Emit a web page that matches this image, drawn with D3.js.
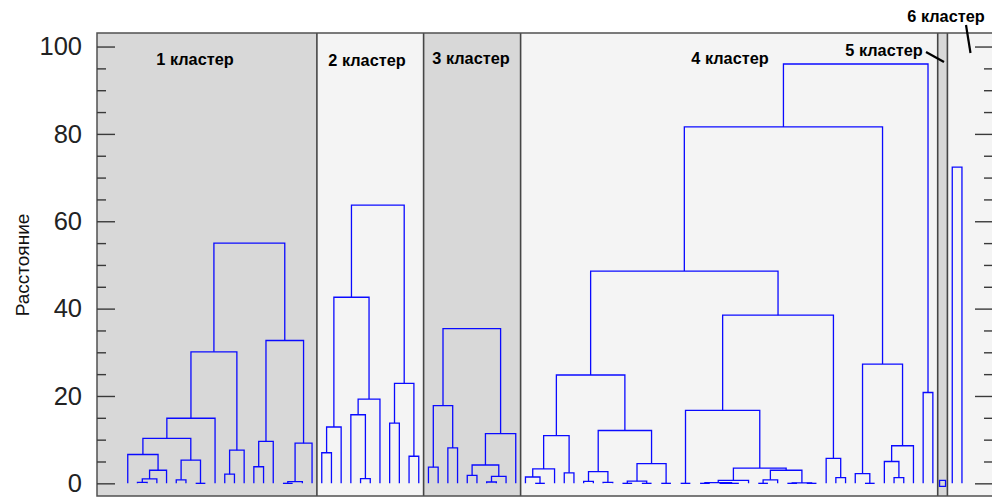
<!DOCTYPE html>
<html>
<head>
<meta charset="utf-8">
<script src="https://cdn.jsdelivr.net/npm/d3@7"></script>
<style>
  html, body { margin: 0; padding: 0; background: #ffffff; }
  svg { display: block; font-family: "Liberation Sans", Arial, sans-serif; }
</style>
</head>
<body>
<svg id="chart" width="992" height="499"></svg>
<script>
// ---- data ----
const clusterNames = ["1 кластер", "2 кластер", "3 кластер", "4 кластер", "5 кластер", "6 кластер"];
// first / last leaf (left-to-right leaf numbers) of every cluster
const clusterFirstLeaf = [0, 20, 31, 41, 84, 85];
const clusterLastLeaf  = [19, 30, 40, 83, 84, 86];

// merge trees: [distance, left, right]; a bare number is a leaf
const tree1 = [55.0,
  [30.1,
    [14.9,
      [10.3,
        [6.6, 0, [3.0, [1.0, [0.2, 1, 2], 3], 4]],
        [5.3, [0.8, 5, 6], [0, 7, 8]]],
      9],
    [7.6, [2.1, 10, 11], 12]],
  [32.7,
    [9.6, [3.8, 13, 14], 15],
    [9.2, [0.4, [0, 16, 17], 18], 19]]];

const tree2 = [63.7,
  [42.6,
    [12.9, [7.0, 20, 21], 22],
    [19.3, [15.7, 23, [1.1, 24, 25]], 26]],
  [22.9, [13.8, 27, 28], [6.2, 29, 30]]];

const tree3 = [35.4,
  [17.8, [3.7, 31, 32], [8.1, 33, 34]],
  [11.4, [4.2, [1.8, 35, 36], [1.6, [0.3, 37, 38], 39]], 40]];

const tree4a = [24.8,
  [10.9, [3.3, [1.45, 41, [0, 42, 43]], 44], [2.4, 45, 46]],
  [12.1, [2.7, [0.45, 47, 48], [0.2, 49, 50]],
         [4.5, [0.5, [0, 51, 52], [0, 53, 54]], [0, 55, 56]]]];
const tree4b = [38.5,
  [16.7, [0, 57, 58],
    [3.5, [0.7, [0.15, [0, 59, 60], [0, [0, 61, 62], 63]], 64],
          [3.0, [0.8, [0, 65, 66], 67], [0.1, [0, 68, 69], [0, 70, 71]]]]],
  [5.7, 72, [1.3, 73, 74]]];
const tree4c = [27.3, [2.2, 75, [0, 76, 77]], [8.6, [5.0, 78, [1.3, 79, 80]], 81]];
const tree4d = [20.8, 82, 83];
const tree4 = [96.0, [81.6, [48.6, tree4a, tree4b], tree4c], tree4d];

const tree5 = 84;
const tree6 = [72.4, 85, 86];

const yTicksMajor = [0, 20, 40, 60, 80, 100];
const yTicksMinor = [5, 10, 15, 25, 30, 35, 45, 50, 55, 65, 70, 75, 85, 90, 95];
const yTitle = "Расстояние";

// ---- layout ----
const frame = { left: 97, right: 993, top: 33, bottom: 496 };
const svg = d3.select("#chart");

const x = d3.scaleLinear().domain([-3.17, 89.2]).range([frame.left, frame.right]);
const y = d3.scaleLinear().domain([-2.9, 103.1]).range([frame.bottom, frame.top]);

const fills = ["#d8d8d8", "#f4f4f4"];

// cluster bands
const bands = clusterNames.map((name, i) => {
  const x0 = i === 0 ? frame.left : x(clusterFirstLeaf[i] - 0.5);
  const x1 = i === clusterNames.length - 1 ? frame.right : x(clusterLastLeaf[i] + 0.5);
  return { name, x0, x1, fill: fills[i % 2] };
});

svg.append("g").selectAll("rect").data(bands).join("rect")
  .attr("x", d => d.x0).attr("y", frame.top)
  .attr("width", d => d.x1 - d.x0).attr("height", frame.bottom - frame.top)
  .attr("fill", d => d.fill);

// dendrogram links
const links = [];
function walk(node) {
  if (typeof node === "number") return { x: x(node), h: 0 };
  const [h, a, b] = node;
  const l = walk(a), r = walk(b);
  links.push({ l, r, h });
  return { x: (l.x + r.x) / 2, h };
}
[tree1, tree2, tree3, tree4, tree6].forEach(walk);

svg.append("g")
  .attr("fill", "none")
  .attr("stroke", "#0a0aff")
  .attr("stroke-width", 1.3)
  .selectAll("path").data(links).join("path")
  .attr("d", d => `M${d.l.x},${y(d.l.h)}V${y(d.h)}H${d.r.x}V${y(d.r.h)}`);

// single-object cluster
svg.append("path")
  .attr("d", d3.symbol(d3.symbolSquare, 36)())
  .attr("transform", `translate(${x(tree5)},${y(0)})`)
  .attr("fill", "none").attr("stroke", "#0a0aff").attr("stroke-width", 1.3);

// band dividers
svg.append("g").selectAll("line").data(bands.slice(1)).join("line")
  .attr("x1", d => d.x0).attr("x2", d => d.x0)
  .attr("y1", frame.top).attr("y2", frame.bottom)
  .attr("stroke", "#454545").attr("stroke-width", 1.6);

// frame
svg.append("rect")
  .attr("x", frame.left).attr("y", frame.top)
  .attr("width", frame.right - frame.left).attr("height", frame.bottom - frame.top)
  .attr("fill", "none").attr("stroke", "#505050").attr("stroke-width", 1.5);

// axes (ticks point inward)
function styleAxis(g) {
  g.select(".domain").remove();
  g.selectAll(".tick line").attr("stroke", "#3a3a3a").attr("stroke-width", 1.4);
}
svg.append("g").attr("transform", `translate(${frame.left},0)`)
  .call(d3.axisLeft(y).tickValues(yTicksMajor).tickSizeInner(-18).tickSizeOuter(0).tickPadding(15))
  .call(styleAxis)
  .call(g => g.selectAll("text")
    .attr("font-family", "\"Liberation Sans\", Arial, sans-serif")
    .attr("font-size", 25.5).attr("fill", "#222"));
svg.append("g").attr("transform", `translate(${frame.left},0)`)
  .call(d3.axisLeft(y).tickValues(yTicksMinor).tickSizeInner(-9).tickSizeOuter(0).tickFormat(""))
  .call(styleAxis);
svg.append("g").attr("transform", `translate(${frame.right},0)`)
  .call(d3.axisRight(y).tickValues(yTicksMajor).tickSizeInner(-18).tickSizeOuter(0).tickFormat(""))
  .call(styleAxis);
svg.append("g").attr("transform", `translate(${frame.right},0)`)
  .call(d3.axisRight(y).tickValues(yTicksMinor).tickSizeInner(-9).tickSizeOuter(0).tickFormat(""))
  .call(styleAxis);

// y title
svg.append("text")
  .attr("transform", "translate(29,265) rotate(-90)")
  .attr("text-anchor", "middle")
  .attr("font-size", 19).attr("fill", "#111")
  .text(yTitle);

// cluster captions
const captionPos = [[195, 65], [367, 66], [471, 64], [730, 64], [884, 56], [946, 22]];
svg.append("g").selectAll("text").data(clusterNames).join("text")
  .attr("x", (d, i) => captionPos[i][0]).attr("y", (d, i) => captionPos[i][1])
  .attr("text-anchor", "middle")
  .attr("font-size", 16.3).attr("font-weight", "bold").attr("fill", "#000")
  .text(d => d);

// leader lines for the narrow clusters
const leaders = [[926, 52, 944, 62], [966, 25, 970.5, 53]];
svg.append("g").selectAll("line").data(leaders).join("line")
  .attr("x1", d => d[0]).attr("y1", d => d[1])
  .attr("x2", d => d[2]).attr("y2", d => d[3])
  .attr("stroke", "#000").attr("stroke-width", 2.2);
</script>
</body>
</html>
